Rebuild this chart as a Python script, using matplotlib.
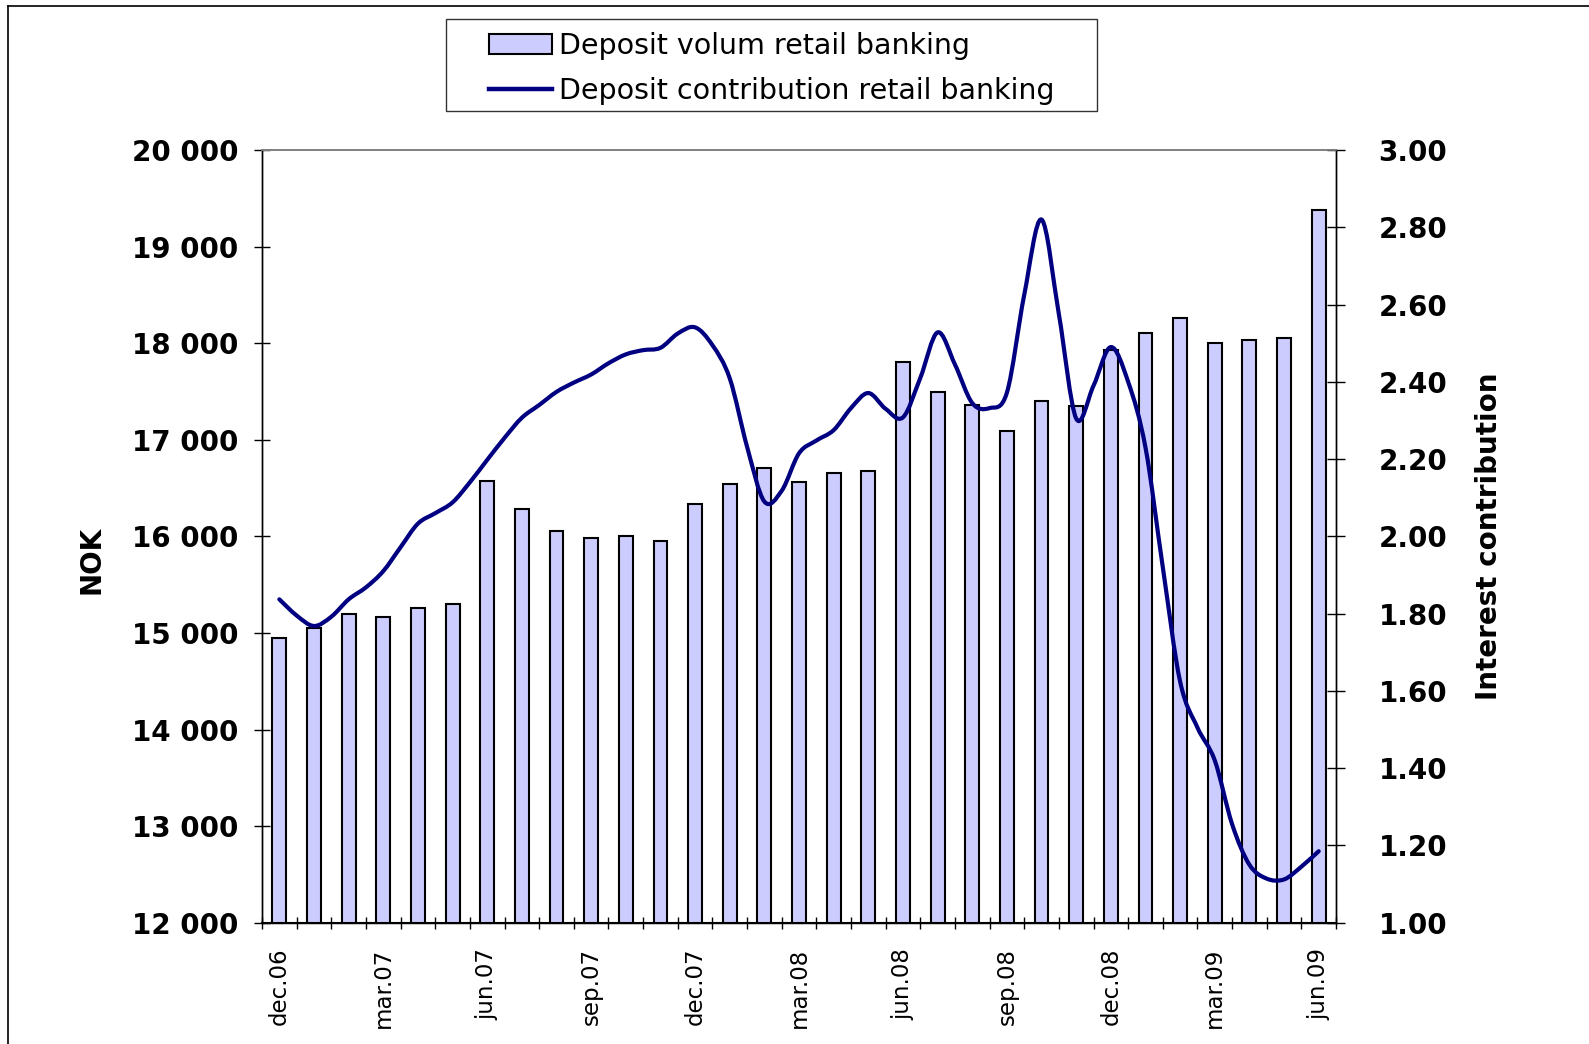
import numpy as np
import matplotlib
matplotlib.use("Agg")
import matplotlib.pyplot as plt
from matplotlib.path import Path
from matplotlib.patches import PathPatch, Rectangle, Patch
from matplotlib.lines import Line2D
from matplotlib.ticker import FuncFormatter

# monthly deposit volume, dec.06 - jun.09
volume = [14950, 15050, 15200, 15165, 15260, 15300, 16570, 16280, 16055, 15985,
          16000, 15950, 16340, 16540, 16705, 16560, 16655, 16675, 17805, 17495,
          17355, 17095, 17400, 17350, 17930, 18110, 18260, 18005, 18030, 18050,
          19380]
# deposit contribution, sampled twice a month over the same period
contribution = [1.837, 1.795, 1.768, 1.792, 1.837, 1.868, 1.910, 1.972, 2.033, 2.060,
                2.088, 2.140, 2.198, 2.255, 2.307, 2.340, 2.374, 2.398, 2.419, 2.448,
                2.471, 2.482, 2.488, 2.525, 2.541, 2.495, 2.409, 2.232, 2.090, 2.118,
                2.215, 2.248, 2.275, 2.332, 2.371, 2.330, 2.308, 2.410, 2.528, 2.445,
                2.345, 2.332, 2.372, 2.625, 2.820, 2.575, 2.305, 2.390, 2.490, 2.400,
                2.230, 1.920, 1.624, 1.505, 1.420, 1.255, 1.150, 1.114, 1.112, 1.145,
                1.185]
tick_labels = ["dec.06", "mar.07", "jun.07", "sep.07", "dec.07", "mar.08",
               "jun.08", "sep.08", "dec.08", "mar.09", "jun.09"]

bar_color = "#CCCCFF"
line_color = "#000080"


def smooth_path(xs, ys):
    # Catmull-Rom style bezier through the points (like a "smoothed line")
    pts = np.column_stack([xs, ys])
    n = len(pts)
    verts = [pts[0]]
    codes = [Path.MOVETO]
    for i in range(n - 1):
        p0 = pts[max(i - 1, 0)]
        p1 = pts[i]
        p2 = pts[i + 1]
        p3 = pts[min(i + 2, n - 1)]
        verts += [p1 + (p2 - p0) / 6, p2 - (p3 - p1) / 6, p2]
        codes += [Path.CURVE4] * 3
    return Path(verts, codes)


fig = plt.figure(figsize=(15.89, 10.44), dpi=100)
ax = fig.add_axes([0.1649, 0.1162, 0.6759, 0.7401])
ax2 = ax.twinx()

x = np.arange(len(volume))
ax.bar(x, volume, width=0.4, color=bar_color, edgecolor="black", linewidth=1.5, zorder=2)
ax.set_xlim(-0.5, len(volume) - 0.5)
ax.set_ylim(12000, 20000)
ax.set_yticks(np.arange(12000, 20001, 1000))
ax.yaxis.set_major_formatter(FuncFormatter(lambda v, p: f"{int(v):,}".replace(",", " ")))

lx = np.arange(len(contribution)) * 0.5
ax2.add_patch(PathPatch(smooth_path(lx, contribution), fill=False,
                        edgecolor=line_color, linewidth=3.0, capstyle="round",
                        joinstyle="round", zorder=3))
ax2.set_ylim(1.0, 3.0)
ax2.set_yticks(np.arange(1.0, 3.01, 0.2))
ax2.yaxis.set_major_formatter(FuncFormatter(lambda v, p: f"{v:.2f}"))

# tick marks between categories, labels every third month
ax.set_xticks(np.arange(-0.5, len(volume), 1))
ax.set_xticklabels([])
ax.set_xticks(x[::3], tick_labels, minor=True)
ax.tick_params(axis="x", which="major", direction="inout", length=9, width=1)
ax.tick_params(axis="x", which="minor", length=0, pad=18, labelsize=16.5, rotation=90)

ax.tick_params(axis="y", direction="inout", length=12, width=1, pad=11, labelsize=20)
ax2.tick_params(axis="y", direction="inout", length=13, width=1, pad=24, labelsize=20)
for lab in ax.get_yticklabels() + ax2.get_yticklabels():
    lab.set_fontweight("bold")

for a in (ax, ax2):
    a.spines["top"].set_color("#808080")
    a.spines["top"].set_linewidth(1.2)
    for s in ("left", "right", "bottom"):
        a.spines[s].set_color("black")
        a.spines[s].set_linewidth(1.0)
ax.spines["bottom"].set_linewidth(1.5)

ax.set_ylabel("NOK", fontsize=20, fontweight="bold")
ax.yaxis.set_label_coords(-0.146, 0.47)
ax2.set_ylabel("Interest contribution", fontsize=20, fontweight="bold")
ax2.yaxis.set_label_coords(1.129, 0.5)

# legend with its own frame
handles = [Patch(facecolor=bar_color, edgecolor="black", linewidth=1.5),
           Line2D([], [], color=line_color, linewidth=3.2)]
labels = ["Deposit volum retail banking", "Deposit contribution retail banking"]
fig.legend(handles, labels, loc="upper left", bbox_to_anchor=(489 / 1589, 1 - 32 / 1044),
           frameon=False, borderpad=0, borderaxespad=0, fontsize=20.5,
           handlelength=2.2, handleheight=0.65, handletextpad=0.25, labelspacing=0.58)
fig.patches.append(Rectangle((446 / 1589, 1 - 111 / 1044), 651 / 1589, 92 / 1044,
                             transform=fig.transFigure, fill=False,
                             edgecolor="#333333", linewidth=1.0))

# outer chart border (left and top edges)
fig.add_artist(Line2D([8 / 1589, 8 / 1589], [0, 1 - 6 / 1044], color="black",
                      linewidth=1.2, transform=fig.transFigure))
fig.add_artist(Line2D([8 / 1589, 1], [1 - 6 / 1044, 1 - 6 / 1044], color="black",
                      linewidth=1.2, transform=fig.transFigure))

fig.savefig("out.png", dpi=100)
